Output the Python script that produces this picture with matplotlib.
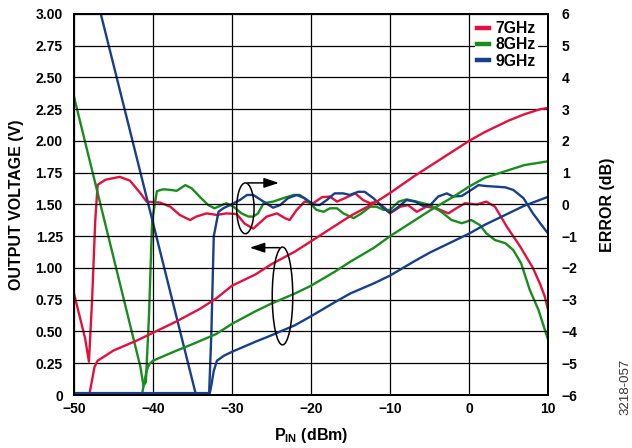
import numpy as np
import matplotlib
matplotlib.use("Agg")
import matplotlib.pyplot as plt
from matplotlib.patches import Ellipse

plt.rcParams['font.family'] = ['Liberation Sans', 'DejaVu Sans']
plt.rcParams['font.weight'] = 'bold'
plt.rcParams['mathtext.fontset'] = 'custom'
plt.rcParams['mathtext.rm'] = 'Liberation Sans:bold'
plt.rcParams['mathtext.bf'] = 'Liberation Sans:bold'

# 输出电压 (V)
pin_v7 = [-50, -48.2, -48.0, -47.7, -47.4, -47.0, -46, -45, -42, -40, -37, -34, -32, -30, -27, -25, -22, -20,
          -17, -15, -12, -10, -7, -5, -2, 0, 2, 5, 7, 9, 10]
vout_7 = [0, 0, 0.02, 0.12, 0.22, 0.27, 0.31, 0.35, 0.43, 0.49, 0.58, 0.68, 0.76, 0.86, 0.95, 1.03, 1.13, 1.21,
          1.33, 1.41, 1.51, 1.59, 1.72, 1.80, 1.92, 2.00, 2.07, 2.16, 2.21, 2.25, 2.26]

pin_v8 = [-50, -41.4, -41.1, -40.8, -40.5, -40, -37, -35, -32, -30, -27, -25, -22, -20,
          -17, -15, -12, -10, -7, -5, -2, 0, 2, 5, 7, 10]
vout_8 = [0, 0, 0.10, 0.19, 0.24, 0.27, 0.35, 0.40, 0.48, 0.56, 0.66, 0.72, 0.80, 0.86,
          0.97, 1.05, 1.16, 1.25, 1.37, 1.45, 1.56, 1.64, 1.71, 1.77, 1.81, 1.84]

pin_v9 = [-50, -32.8, -32.6, -32.3, -31.9, -31, -30, -27, -25, -22, -20, -17, -15, -12, -10,
          -7, -5, -2, 0, 2, 5, 7, 10]
vout_9 = [0.015, 0.015, 0.08, 0.19, 0.27, 0.31, 0.34, 0.42, 0.47, 0.55, 0.62, 0.73, 0.80, 0.88, 0.94,
          1.05, 1.12, 1.21, 1.27, 1.34, 1.43, 1.49, 1.56]

# 误差 (dB)
pin_e7 = [-50, -48.6, -48.1, -47.7, -47.3, -47.0, -46.0, -44.2, -42.9, -41.6, -40.8, -39.1, -37.8, -36.6,
          -35.3, -34.5, -33.2, -31.9, -30.7, -29.4, -28.4, -27.3, -25.6, -24.3, -23.3, -22.7, -21.8,
          -20.8, -19.7, -18.6, -17.6, -16.7, -15.7, -14.4, -13.4, -12.5, -11.7, -10.6, -10.0, -8.7,
          -7.7, -6.6, -5.4, -4.1, -2.6, -1.6, -0.5, 1.0, 2.2, 3.3, 4.8, 6.5, 8.1, 9.0, 9.6, 10.0]
err_7 = [-2.8, -4.2, -4.95, -3.0, -0.5, 0.62, 0.78, 0.87, 0.75, 0.36, 0.09, 0.06, -0.07, -0.33,
         -0.49, -0.38, -0.28, -0.33, -0.28, -0.30, -0.60, -0.76, -0.38, -0.28, -0.43, -0.49, -0.17,
         0.09, 0.04, 0.23, 0.25, 0.09, 0.20, 0.35, 0.14, 0.04, 0.09, -0.12, -0.28, -0.07,
         -0.02, -0.23, -0.07, -0.12, -0.28, -0.12, 0.04, 0.0, 0.09, -0.07, -0.70, -1.33, -2.00, -2.5, -2.9, -3.3]

pin_e8 = [-50, -41.6, -41.2, -40.9, -40.5, -40.1, -39.5, -38.7, -37.8, -37.0, -35.9, -35.1, -34.1, -33.0,
          -32.2, -31.3, -30.7, -29.8, -28.8, -27.9, -27.3, -26.7, -26.0, -24.8, -23.5, -22.2, -21.4,
          -20.3, -19.3, -18.4, -17.6, -16.7, -15.9, -14.6, -13.6, -12.5, -11.7, -10.8, -10.0, -8.9,
          -7.9, -6.6, -4.9, -3.5, -2.2, -0.9, 0.3, 1.4, 2.2, 3.3, 4.6, 5.6, 6.6, 7.7, 8.8, 10.0]
err_8 = [3.4, -5.1, -5.7, -5.6, -3.5, -0.5, 0.42, 0.48, 0.46, 0.43, 0.61, 0.51, 0.25, -0.02,
         -0.12, -0.02, 0.04, -0.07, -0.28, -0.38, -0.38, -0.28, 0.04, 0.09, 0.20, 0.30, 0.30,
         0.09, -0.17, -0.23, -0.12, -0.12, -0.28, -0.43, -0.28, -0.07, -0.07, -0.17, -0.17, 0.09,
         0.16, 0.09, -0.02, -0.23, -0.49, -0.59, -0.49, -0.65, -0.91, -1.12, -1.22, -1.43, -1.85, -2.69, -3.32, -4.25]

pin_e9 = [-47.0, -34.5, -32.9, -32.6, -32.3, -31.7, -31.1, -29.8, -29.0, -28.1, -27.3, -26.0, -24.8, -23.9,
          -22.9, -21.8, -20.8, -19.7, -18.9, -18.0, -17.0, -15.9, -15.1, -14.0, -13.2, -12.1, -11.0,
          -10.2, -9.8, -8.9, -7.9, -6.8, -5.8, -4.9, -3.9, -2.8, -2.0, -0.9, 0.3, 1.2, 2.2, 3.5,
          4.6, 5.6, 6.9, 8.1, 9.2, 10.0]
err_9 = [6.4, -6.05, -6.05, -4.0, -1.0, -0.23, -0.12, 0.04, 0.14, 0.30, 0.30, 0.09, -0.10, -0.02,
         0.20, 0.30, 0.20, 0.0, -0.02, 0.14, 0.35, 0.35, 0.30, 0.40, 0.40, 0.20, -0.07,
         -0.23, -0.23, -0.07, 0.14, 0.09, -0.05, -0.02, 0.25, 0.35, 0.25, 0.27, 0.46, 0.61, 0.58, 0.56,
         0.54, 0.46, 0.20, -0.28, -0.65, -0.91]

labels = ['7GHz', '8GHz', '9GHz']
colors = ['#E2103C', '#198C1E', '#173F8A']

fig = plt.figure(figsize=(6.32, 4.48), dpi=100)
ax = fig.add_axes([0.117, 0.1183, 0.750, 0.8505])
ax2 = ax.twinx()

lw = 1.7
ax.plot(pin_v7, vout_7, color=colors[0], lw=lw, label=labels[0])
ax.plot(pin_v8, vout_8, color=colors[1], lw=lw, label=labels[1])
ax.plot(pin_v9, vout_9, color=colors[2], lw=lw, label=labels[2])
ax2.plot(pin_e7, err_7, color=colors[0], lw=lw)
ax2.plot(pin_e8, err_8, color=colors[1], lw=lw)
ax2.plot(pin_e9, err_9, color=colors[2], lw=lw)

ax.set_xlim(-50, 10)
ax.set_ylim(0, 3)
ax2.set_ylim(-6, 6)
ax.set_xticks(np.arange(-50, 11, 10))
ax.set_yticks(np.arange(0, 3.01, 0.25))
ax.set_yticklabels([f'{v:.2f}' if v > 0 else '0' for v in np.arange(0, 3.01, 0.25)])
ax2.set_yticks(np.arange(-6, 7, 1))
ax.grid(True, color='black', lw=0.9)
ax.set_axisbelow(True)

fs = 10
ax.tick_params(axis='x', length=0, labelsize=fs, pad=5)
ax.tick_params(axis='y', length=0, labelsize=fs, pad=8)
ax2.tick_params(axis='y', length=0, labelsize=fs, pad=10)
for a in (ax, ax2):
    for s in a.spines.values():
        s.set_linewidth(1.4)
for t in ax.get_xticklabels() + ax.get_yticklabels() + ax2.get_yticklabels():
    t.set_fontweight('bold')

ax.set_xlabel(r'$\mathbf{P_{IN}}$ (dBm)', fontsize=11.5, fontweight='bold', labelpad=7)
ax.set_ylabel('OUTPUT VOLTAGE (V)', fontsize=11.5, fontweight='bold', labelpad=8)
ax2.set_ylabel('ERROR (dB)', fontsize=11.5, fontweight='bold', labelpad=16, rotation=90)

# 椭圆和箭头标注
ax.add_patch(Ellipse((-28.3, 1.47), 2.2, 0.40, fill=False, ec='black', lw=1.1, zorder=5))
ax.annotate('', xy=(-23.7, 1.67), xytext=(-28.35, 1.67),
            arrowprops=dict(arrowstyle='-|>,head_length=0.9,head_width=0.3', color='black', lw=1.1))
ax.add_patch(Ellipse((-23.6, 0.78), 2.6, 0.77, fill=False, ec='black', lw=1.1, zorder=5))
ax.annotate('', xy=(-28.1, 1.16), xytext=(-23.65, 1.16),
            arrowprops=dict(arrowstyle='-|>,head_length=0.9,head_width=0.3', color='black', lw=1.1))

leg = ax.legend(loc='upper right', bbox_to_anchor=(0.995, 1.007), fontsize=11.3, handlelength=0.75,
                handletextpad=0.45, labelspacing=0.08, borderpad=0.12, frameon=True, fancybox=False)
leg.get_frame().set_edgecolor('none')
leg.get_frame().set_facecolor('white')
leg.get_frame().set_alpha(1)
for line in leg.get_lines():
    line.set_linewidth(3.2)
for t in leg.get_texts():
    t.set_fontweight('bold')
# 图例放在曲线之上、边框之下
leg.set_zorder(2.4)
ax.set_zorder(ax2.get_zorder() + 1)
ax.patch.set_visible(False)

fig.text(0.99, 0.074, '3218-057', rotation=90, fontsize=9.5, fontweight='normal', color='#333333',
         ha='center', va='bottom')

plt.savefig('out.png', dpi=100)
plt.close()
